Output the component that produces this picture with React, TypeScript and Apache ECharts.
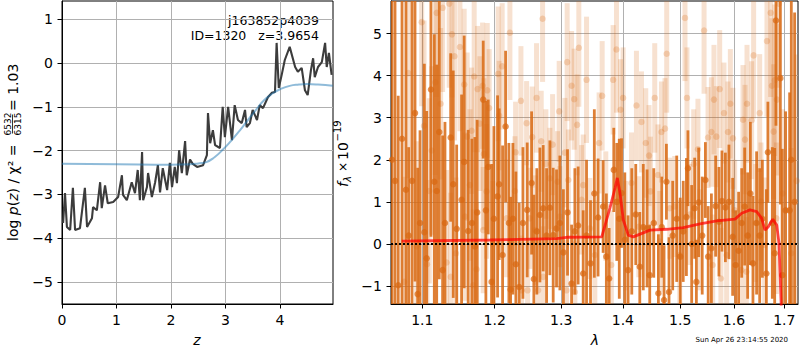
import React, { useEffect, useRef } from "react";
import * as echarts from "echarts";

// ---------- left panel: log p(z) ----------
const pzZ = [0.02,0.055,0.09,0.15,0.20,0.24,0.33,0.42,0.46,0.55,0.57,0.64,0.70,0.73,0.79,0.84,0.94,1.03,1.10,1.12,1.19,1.28,1.34,1.39,1.43,1.47,1.49,1.56,1.58,1.65,1.71,1.76,1.80,1.85,1.93,1.98,2.02,2.07,2.11,2.15,2.20,2.26,2.29,2.35,2.40,2.48,2.59,2.66,2.68,2.72,2.77,2.81,2.90,2.95,2.99,3.05,3.12,3.17,3.23,3.30,3.36,3.39,3.45,3.50,3.58,3.63,3.69,3.78,3.85,3.91,3.94,3.98,4.04,4.09,4.18,4.28,4.33,4.40,4.46,4.51,4.57,4.61,4.64,4.70,4.77,4.83,4.86,4.90,4.95];
const pzLog = [-3.65,-2.97,-3.74,-3.81,-2.85,-3.81,-3.77,-2.85,-3.74,-3.54,-3.29,-3.36,-2.72,-3.31,-2.79,-3.2,-3.17,-3.06,-2.56,-3.01,-3.13,-2.72,-2.97,-2.44,-3.13,-2.03,-3.13,-2.83,-2.51,-3.06,-2.72,-2.33,-2.95,-2.4,-2.9,-2.28,-2.83,-2.37,-2.74,-1.99,-2.51,-1.78,-2.56,-2.2,-2.3,-2.37,-2.33,-2.1,-1.14,-1.83,-1.53,-1.87,-1.94,-1.0,-1.69,-1.0,-1.76,-0.96,-1.3,-1.37,-1.07,-1.46,-1.37,-1.07,-1.3,-0.96,-1.03,-0.78,-0.68,-0.66,0.46,-0.57,-0.23,0.07,0.37,-0.09,-0.2,-0.11,-0.62,-0.73,-0.16,0.11,-0.32,-0.09,0.02,0.46,-0.09,0.23,-0.27];
const priorZ = [0,1.0,2.0,2.35,2.5,2.65,2.8,2.95,3.1,3.27,3.4,3.56,3.7,3.87,4.0,4.18,4.35,4.49,4.7,4.97];
const priorLog = [-2.30,-2.31,-2.32,-2.31,-2.29,-2.26,-2.15,-1.98,-1.78,-1.53,-1.32,-1.07,-0.86,-0.69,-0.6,-0.52,-0.49,-0.48,-0.49,-0.52];
const zTicks = [0,1,2,3,4];
const lnpTicks = [-5,-4,-3,-2,-1,0,1];

// ---------- right panel: spectrum ----------
const darkWave = [1.0606,1.0645,1.0686,1.0735,1.0786,1.0821,1.0865,1.0904,1.0939,1.0970,1.1027,1.1058,1.1115,1.1160,1.1192,1.1227,1.1272,1.1304,1.1382,1.1417,1.1464,1.1532,1.1568,1.1624,1.1676,1.1718,1.1750,1.1836,1.1874,1.1907,1.1956,1.1989,1.2042,1.2065,1.2115,1.2159,1.2207,1.2232,1.2266,1.2310,1.2359,1.2415,1.2479,1.2545,1.2579,1.2624,1.2671,1.2721,1.2773,1.2824,1.2875,1.2927,1.2979,1.3034,1.3099,1.3163,1.3215,1.3267,1.3348,1.3402,1.3466,1.3528,1.3589,1.3672,1.3725,1.3771,1.3848,1.3898,1.3940,1.3978,1.4033,1.4088,1.4151,1.4219,1.4288,1.4348,1.4414,1.4460,1.4530,1.4611,1.4670,1.4711,1.4753,1.4799,1.4865,1.4937,1.5000,1.5054,1.5112,1.5140,1.5208,1.5263,1.5294,1.5336,1.5402,1.5461,1.5513,1.5573,1.5653,1.5715,1.5772,1.5837,1.5905,1.5976,1.6034,1.6091,1.6151,1.6209,1.6267,1.6320,1.6371,1.6443,1.6504,1.6557,1.6637,1.6668,1.6757,1.6804,1.6830,1.6919,1.6960,1.7027,1.7109,1.7144,1.7212];
const darkFlux = [2.0,1.5,-0.98,2.5,1.29,0.2,1.5,3.11,-1.19,0.5,0.28,-0.34,3.67,1.48,1.26,2.66,-0.62,0.5,2.53,1.42,0.36,1.05,1.95,0.31,0.5,-0.06,0.75,3.43,0.8,1.83,-0.9,0.6,1.13,1.42,-0.26,2.79,0.5,-1.08,0.6,-0.48,-1.02,0.5,0.81,1.45,-0.83,0.3,0.69,0.85,0.2,0.86,0.21,0.37,0.5,-0.2,0.75,-0.94,0.3,0.44,-0.7,0.2,-0.46,1.2,0.63,0.89,-0.3,-0.82,1.76,1.0,0.6,1.21,0.1,-0.62,0.3,0.7,-0.54,0.4,0.37,-0.74,0.5,-1.17,0.4,-1.33,1.48,-1.14,0.2,0.6,-0.3,0.3,0.64,1.8,0.0,0.85,-0.9,0.99,0.2,1.52,-0.3,-0.1,0.9,0.53,1.02,0.87,1.0,0.17,-0.5,-0.16,0.5,0.89,0.2,1.2,-0.46,0.5,0.2,0.6,-0.7,2.18,0.5,-0.22,5.31,3.94,-0.74,0.8,0.8,2.0,1.0];
const darkErr = [5,5,4.5,4,5,2.1,4.5,4,3.0,2.2,4,3.5,3.5,3.5,3,3.5,3.2,2.4,2.0,2.7,2.0,2.5,3.0,2.4,2.0,2.6,2.2,1.4,2.6,1.6,2.8,2.2,2.4,1.8,2.6,1.8,1.9,2.2,1.8,2.2,2.0,1.8,1.6,1.7,2.0,1.5,1.6,1.5,1.6,1.6,1.6,1.4,1.6,1.5,1.5,1.4,1.5,1.4,1.5,1.8,1.5,2.0,1.4,1.1,1.5,1.2,1.0,1.4,1.9,1.3,1.6,1.3,1.5,1.2,1.3,1.5,1.4,1.2,1.3,1.4,1.2,1.3,0.9,1.3,1.3,1.5,1.4,1.2,1.4,0.9,1.4,1.2,1.0,1.3,1.4,0.9,1.2,1.3,1.2,1.3,1.2,1.3,1.36,1.4,1.3,1.4,1.3,1.4,1.5,1.7,1.6,1.7,1.6,1.4,2.0,1.2,1.8,2.5,2.5,3.0,3.0,2.35,2.8,5,4.5];

const lightWave = [1.0761,1.0816,1.0926,1.0992,1.1023,1.1062,1.1093,1.1125,1.1173,1.1192,1.1245,1.1272,1.1326,1.1362,1.1382,1.1399,1.1434,1.1454,1.1509,1.1568,1.1578,1.1610,1.1648,1.1672,1.1694,1.1708,1.1742,1.1756,1.1789,1.1827,1.1836,1.1846,1.1884,1.1893,1.1921,1.1975,1.2051,1.2065,1.2109,1.2173,1.2222,1.2296,1.2306,1.2385,1.2395,1.2470,1.2485,1.2519,1.2554,1.2602,1.2620,1.2644,1.2691,1.2712,1.2721,1.2762,1.2824,1.2866,1.2943,1.2968,1.2979,1.3057,1.3083,1.3093,1.3112,1.3163,1.3204,1.3215,1.3251,1.3278,1.3322,1.3348,1.3402,1.3455,1.3536,1.3606,1.3656,1.3716,1.3807,1.3837,1.3893,1.3961,1.4004,1.4050,1.4146,1.4231,1.4271,1.4317,1.4391,1.4448,1.4472,1.4547,1.4604,1.4635,1.4665,1.4728,1.4758,1.4812,1.4901,1.4991,1.5086,1.5122,1.5172,1.5245,1.5323,1.5356,1.5436,1.5510,1.5573,1.5597,1.5621,1.5666,1.5729,1.5752,1.5810,1.5861,1.5886,1.5932,1.5982,1.6015,1.6145,1.6176,1.6215,1.6242,1.6254,1.6345,1.6384,1.6424,1.6504,1.6530,1.6603,1.6649,1.6723,1.6749,1.6783,1.6804,1.6838,1.6850,1.6890,1.6966,1.7144,1.7253];
const lightFlux = [-0.9,4.06,-0.06,5.27,2.81,-0.48,1.26,2.22,3.84,5.49,3.33,5.61,-0.44,5.71,-0.78,4.98,4.46,-0.22,4.68,3.79,0.65,2.55,1.4,2.69,-0.98,3.98,-0.6,3.68,2.86,3.76,0.33,2.14,1.25,3.65,3.23,0.0,4.04,3.05,4.22,0.61,5.02,1.26,2.18,3.4,-1.1,2.87,-1.1,0.61,2.54,0.33,3.47,-1.1,2.44,5.35,-0.78,1.9,1.56,2.36,1.48,3.15,0.65,2.17,-1.1,4.32,1.52,3.76,3.44,-1.14,2.83,4.66,1.05,1.4,3.9,0.37,-0.26,2.4,3.52,0.9,-0.5,3.9,4.62,3.19,3.47,0.2,1.45,3.29,0.41,2.9,2.4,2.1,1.25,3.47,1.64,0.06,2.66,2.74,4.52,0.85,0.89,-0.26,5.37,3.47,0.7,1.9,2.25,0.1,5.07,2.53,2.66,-0.5,3.43,2.55,3.68,-0.82,3.11,-0.26,2.66,3.33,2.51,0.8,-0.62,2.95,2.48,-0.66,3.33,2.94,4.48,0.5,3.11,1.01,-0.02,4.82,5.49,3.76,2.67,3.89,0.61,3.43,5.71,1.2,-0.22,1.5];
const lightErr = [2.5,2.5,2.5,2.0,2.5,2.0,2.2,2.0,2.2,2.0,1.8,2.0,2.2,2.0,2.0,1.5,2.0,1.8,2.0,1.8,2.0,2.0,1.8,1.5,1.8,1.8,1.6,1.5,1.6,1.5,1.5,1.8,1.6,1.6,1.4,1.5,1.6,1.3,1.5,1.4,1.6,1.3,1.2,1.3,1.3,1.0,1.2,1.2,1.2,1.3,1.3,1.2,1.2,1.5,1.2,1.3,1.2,1.2,1.2,1.2,1.2,1.3,1.2,1.4,1.2,1.3,1.2,1.2,1.2,1.4,1.3,1.2,1.5,1.2,1.3,1.2,1.3,1.3,1.3,1.3,1.5,1.2,1.2,1.3,1.2,1.3,1.2,1.2,1.3,1.2,1.3,1.3,1.2,1.2,1.2,1.2,1.4,1.2,1.2,1.3,1.5,1.2,1.2,1.3,1.2,1.2,1.5,1.2,1.3,1.2,1.3,1.2,1.4,1.2,1.2,1.2,1.2,1.3,1.2,1.2,1.3,1.3,1.3,1.3,1.4,1.4,1.5,1.4,1.4,1.4,1.6,1.8,2.0,1.6,1.6,1.8,1.8,1.8,2.0,2.0,2.5,3.0];

const modelWave = [1.0731,1.1933,1.2929,1.3086,1.3649,1.3785,1.3869,1.3907,1.3952,1.4008,1.4092,1.4177,1.4465,1.4758,1.5056,1.5361,1.5673,1.6021,1.6151,1.6313,1.6445,1.6544,1.6610,1.6676,1.6765,1.6846,1.6892,1.6933,1.6953];
const modelFlux = [0.07,0.095,0.13,0.16,0.17,0.86,1.33,1.57,1.21,0.57,0.21,0.17,0.33,0.35,0.39,0.48,0.55,0.59,0.73,0.81,0.77,0.61,0.33,0.41,0.59,0.45,0.02,-1.33,-2.0];

const lamTicks = [1.1,1.2,1.3,1.4,1.5,1.6,1.7];
const fluxTicks = [-1,0,1,2,3,4,5];

const FONT = "DejaVu Sans";
const ORANGE = "216,104,18";

function fmt(v: number): string {
  const r = Math.round(v);
  return r < 0 ? "\u2212" + Math.abs(r) : String(r);
}

function zip2(a: number[], b: number[]) {
  const n = Math.min(a.length, b.length);
  const out: number[][] = [];
  for (let i = 0; i < n; i++) out.push([a[i], b[i]]);
  return out;
}
function zipSpec(w: number[], f: number[], e: number[]) {
  const n = Math.min(w.length, f.length, e.length);
  const out: number[][] = [];
  for (let i = 0; i < n; i++) out.push([Math.log(w[i]), f[i], e[i]]);
  return out;
}

function errRender(width: number, fill: string) {
  return (params: any, api: any) => {
    const x = api.value(0);
    const y = api.value(1);
    const e = api.value(2);
    const top = api.coord([x, y + e]);
    const bot = api.coord([x, y - e]);
    return {
      type: "rect",
      shape: { x: top[0] - width / 2, y: top[1], width, height: bot[1] - top[1] },
      style: { fill },
    };
  };
}

function axisBase(ticks: number[], margin: number, formatter: (v: number) => string) {
  return {
    axisLine: { show: true, onZero: false, lineStyle: { color: "#000", width: 1 } },
    axisTick: { show: true, inside: false, length: 4.5, customValues: ticks, lineStyle: { color: "#000", width: 1 } },
    axisLabel: { color: "#000", fontSize: 14, fontFamily: FONT, margin, customValues: ticks, formatter },
    splitLine: { show: true, lineStyle: { color: "#b0b0b0", width: 1 } },
  };
}

export default function App() {
  const ref = useRef<HTMLDivElement>(null);
  useEffect(() => {
    if (!ref.current) return;
    const chart = echarts.init(ref.current, undefined, { renderer: "svg" });
    const lamLn = lamTicks.map((v) => Math.log(v));
    const txt = (x: number, y: number, text: string, extra: any = {}) => ({
      type: "text",
      x,
      y,
      style: { text, fill: "#000", fontFamily: FONT, fontSize: 14, align: "left", verticalAlign: "middle", ...extra },
    });
    const option: any = {
      animation: false,
      backgroundColor: "#fff",
      grid: [
        { left: 62, top: 1, width: 271, height: 303, show: true, borderColor: "#000", borderWidth: 1, backgroundColor: "transparent" },
        { left: 391, top: 1, width: 407, height: 303, show: true, borderColor: "#000", borderWidth: 1, backgroundColor: "transparent" },
      ],
      xAxis: [
        { type: "value", gridIndex: 0, min: 0, max: 4.975, ...axisBase(zTicks, 9, (v: number) => fmt(v)) },
        { type: "value", gridIndex: 1, min: 0.05767, max: 0.54709, ...axisBase(lamLn, 9, (v: number) => Math.exp(v).toFixed(1)) },
      ],
      yAxis: [
        { type: "value", gridIndex: 0, min: -5.5, max: 1.417, ...axisBase(lnpTicks, 9, (v: number) => fmt(v)) },
        { type: "value", gridIndex: 1, min: -1.425, max: 5.772, ...axisBase(fluxTicks, 9, (v: number) => fmt(v)) },
      ],
      series: [
        {
          type: "line", xAxisIndex: 0, yAxisIndex: 0, data: zip2(pzZ, pzLog), showSymbol: false,
          lineStyle: { color: "#3c3c3c", width: 2.1 }, z: 3,
        },
        {
          type: "line", xAxisIndex: 0, yAxisIndex: 0, data: zip2(priorZ, priorLog), showSymbol: false, smooth: true,
          lineStyle: { color: "rgba(31,119,180,0.5)", width: 2 }, z: 4,
        },
        {
          type: "custom", xAxisIndex: 1, yAxisIndex: 1, clip: true, z: 2,
          data: zipSpec(lightWave, lightFlux, lightErr),
          renderItem: errRender(5, `rgba(${ORANGE},0.2)`),
        },
        {
          type: "scatter", xAxisIndex: 1, yAxisIndex: 1, clip: true, z: 2,
          data: zipSpec(lightWave, lightFlux, lightErr), symbolSize: 6.5,
          itemStyle: { color: `rgba(${ORANGE},0.3)` },
        },
        {
          type: "custom", xAxisIndex: 1, yAxisIndex: 1, clip: true, z: 3,
          data: zipSpec(darkWave, darkFlux, darkErr),
          renderItem: errRender(2.8, `rgba(${ORANGE},0.85)`),
        },
        {
          type: "scatter", xAxisIndex: 1, yAxisIndex: 1, clip: true, z: 3,
          data: zipSpec(darkWave, darkFlux, darkErr), symbolSize: 6.5,
          itemStyle: { color: `rgba(${ORANGE},0.9)` },
        },
        {
          type: "line", xAxisIndex: 1, yAxisIndex: 1, z: 5,
          data: modelWave.map((w, i) => [Math.log(w), modelFlux[i]]), showSymbol: false,
          lineStyle: { color: "rgba(255,0,0,0.72)", width: 2.8 },
          markLine: {
            silent: true, symbol: "none", label: { show: false },
            lineStyle: { color: "#000", type: [2, 2], width: 2 },
            data: [{ yAxis: 0 }],
          },
        },
      ],
      graphic: [
        txt(319, 20, "j163852p4039", { align: "right", fontSize: 12.5 }),
        txt(319, 35, "ID=1320   z=3.9654", { align: "right", fontSize: 12.5 }),
        txt(197, 340, "z", { align: "center", fontStyle: "italic" }),
        txt(595, 340, "\u03bb", { align: "center", fontStyle: "italic" }),
        txt(788, 339.5, "Sun Apr 26 23:14:55 2020", { align: "right", fontSize: 7 }),
        {
          type: "group", x: 12.5, y: 241, rotation: Math.PI / 2,
          children: [
            {
              type: "text", x: 0, y: 0,
              style: {
                text: "log {i|p}({i|z}) / \u03c7\u00b2 =",
                rich: { i: { fontStyle: "italic", fontSize: 14, fontFamily: FONT } },
                fill: "#000", fontFamily: FONT, fontSize: 14, align: "left", verticalAlign: "middle",
              },
            },
            txt(117, -5, "6532", { align: "center", fontSize: 9 }),
            { type: "line", shape: { x1: 107.5, y1: 0, x2: 126.5, y2: 0 }, style: { stroke: "#000", lineWidth: 0.8 } },
            txt(117, 5, "6315", { align: "center", fontSize: 9 }),
            txt(130, 0, "= 1.03", {}),
          ],
        },
        {
          type: "group", x: 343, y: 187, rotation: Math.PI / 2,
          children: [
            txt(0, 0, "f", { fontStyle: "italic" }),
            txt(5, 4, "\u03bb", { fontStyle: "italic", fontSize: 10 }),
            txt(15, 0, "\u00d7", { fontSize: 12 }),
            txt(27, 0, "10", {}),
            txt(45.5, -6, "\u221219", { fontSize: 10 }),
          ],
        },
      ],
    };
    chart.setOption(option);
    return () => chart.dispose();
  }, []);
  return (
    <div
      ref={ref}
      style={{ position: "fixed", left: 0, top: 0, width: 800, height: 350, background: "#fff" }}
    />
  );
}
